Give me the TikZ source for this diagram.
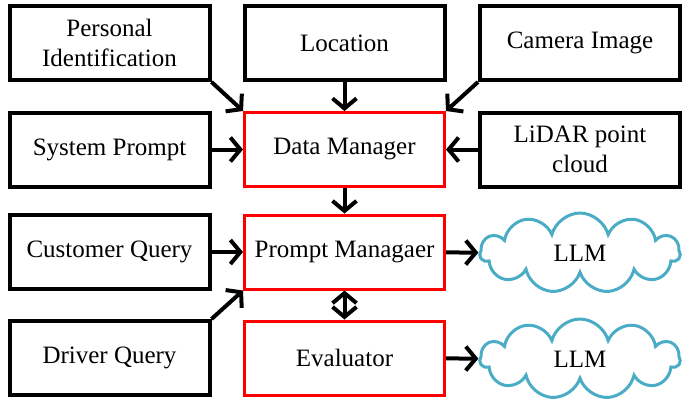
\documentclass[tikz,border=0pt]{standalone}
\usepackage{fontspec}
\setmainfont{Liberation Serif}
\usetikzlibrary{arrows.meta,shapes.symbols}
\definecolor{cloudblue}{RGB}{75,172,198}

\begin{document}
\begin{tikzpicture}[x=0.5pt, y=-0.5pt]
        \tikzset{
            box/.style={draw, line width=2pt, minimum width=100pt, minimum height=37pt,
                inner sep=2pt, align=center, font=\fontsize{12.5}{15}\selectfont},
            redbox/.style={box, draw=red, line width=1.5pt},
            llm/.style={cloud, cloud puffs=11, aspect=2.4, draw=cloudblue, fill=white,
                line width=1.5pt, minimum width=100pt, minimum height=40pt,
                font=\fontsize{12.5}{15}\selectfont},
            tip/.tip={Straight Barb[length=5pt, width=12pt]},
            link/.style={line width=2pt, -tip}
        }
        \useasboundingbox (0,0) rectangle (700,409);

        % inputs
        \node[box] (pid) at (109.5, 43) {Personal\\Identification};
        \node[box] (loc) at (344.5, 43) {Location};
        \node[box] (cam) at (580, 43) {Camera Image};
        \node[box] (sys) at (109.5, 149.5) {System Prompt};
        \node[box] (lidar) at (580, 149.5) {LiDAR point\\cloud};
        \node[box] (cust) at (109.5, 252) {Customer Query};
        \node[box] (drv) at (109.5, 358) {Driver Query};

        % managers
        \node[redbox] (data) at (344.5, 149.5) {Data Manager};
        \node[redbox] (prompt) at (344.5, 252) {Prompt Managaer};
        \node[redbox] (eval) at (344.5, 358) {Evaluator};

        \node[llm] (llma) at (580, 253) {LLM};
        \node[llm] (llmb) at (580, 359) {LLM};

        \draw[link] (pid.south east) -- (data.north west);
        \draw[link] (loc) -- (data);
        \draw[link] (cam.south west) -- (data.north east);
        \draw[link] (sys) -- (data);
        \draw[link] (lidar) -- (data);
        \draw[link] (data) -- (prompt);
        \draw[link] (cust) -- (prompt);
        \draw[link] (drv.north east) -- (prompt.south west);
        \draw[link, tip-tip] (prompt) -- (eval);
        \draw[link] (prompt) -- (llma);
        \draw[link] (eval) -- (llmb);

    \end{tikzpicture}
\end{document}
